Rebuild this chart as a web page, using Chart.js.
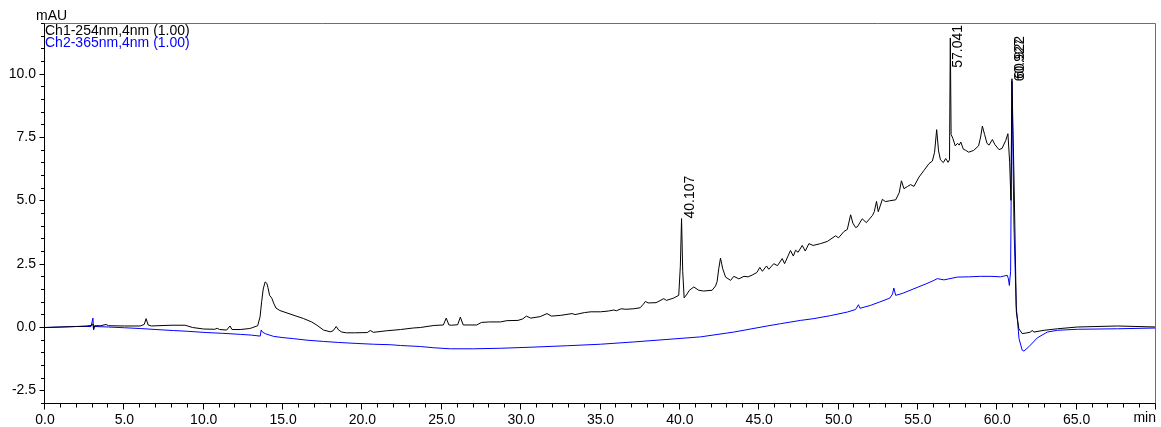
<!DOCTYPE html>
<html>
<head>
	<title>Chromatogram</title>
	<style>
		body
		{
			margin: 0;
			background: #ffffff;
		}

		#chart
		{
			display: block;
		}
	</style>
</head>
<body>
	<canvas id="chart" width="1161" height="427"></canvas>

	<script src="https://cdn.jsdelivr.net/npm/chart.js@4.4.1/dist/chart.umd.min.js"></script>
	<script>

		// Ch1 (254 nm): retention time in min, absorbance in mAU
		var ch1Times = [
			0.0, 1.0, 2.0, 2.6, 2.9, 3.02, 3.06, 3.12, 3.5, 3.85, 4.0, 5.0, 6.0, 6.25, 6.37, 6.5, 6.7, 7.5, 8.0, 8.83,
			9.3, 10.0, 10.7, 10.85, 11.0, 11.45, 11.6, 11.66, 11.78, 12.3, 12.9, 13.05, 13.4, 13.55, 13.65, 13.75, 13.87, 13.98, 14.05, 14.15,
			14.29, 14.4, 14.55, 14.8, 15.5, 16.3, 16.8, 17.13, 17.55, 17.97, 18.15, 18.35, 18.5, 18.7, 19.0, 19.5, 20.3, 20.49, 20.7, 21.5,
			22.4, 23.2, 23.65, 24.5, 25.1, 25.28, 25.45, 25.6, 26.0, 26.17, 26.35, 27.2, 27.5, 28.0, 28.7, 29.1, 29.8, 30.1, 30.33, 30.6,
			31.2, 31.63, 31.9, 32.5, 33.21, 33.4, 34.0, 34.4, 35.0, 35.5, 35.84, 36.0, 36.3, 36.6, 37.1, 37.5, 37.7, 37.83, 38.0, 38.5,
			38.99, 39.15, 39.6, 39.93, 40.03, 40.107, 40.18, 40.27, 40.45, 40.6, 40.88, 41.19, 41.5, 42.03, 42.25, 42.35, 42.45, 42.56, 42.7, 42.88,
			43.2, 43.4, 43.72, 44.04, 44.3, 44.56, 44.85, 45.04, 45.2, 45.46, 45.6, 45.92, 46.15, 46.45, 46.6, 46.97, 47.15, 47.29, 47.45, 47.71,
			47.9, 48.13, 48.4, 48.86, 49.3, 49.81, 50.0, 50.34, 50.55, 50.76, 50.9, 51.07, 51.18, 51.49, 51.75, 52.13, 52.25, 52.39, 52.5, 52.76,
			52.95, 53.2, 53.6, 53.82, 53.96, 54.12, 54.35, 54.54, 54.75, 55.07, 55.38, 55.7, 55.91, 56.05, 56.18, 56.3, 56.42, 56.6, 56.75, 56.9,
			56.99, 57.041, 57.09, 57.2, 57.35, 57.5, 57.6, 57.7, 57.86, 58.0, 58.2, 58.51, 58.82, 58.95, 59.06, 59.2, 59.35, 59.48, 59.69, 59.85,
			60.11, 60.3, 60.53, 60.67, 60.78, 60.86, 60.922, 61.05, 61.2, 61.36, 61.57, 61.8, 62.1, 62.2, 62.3, 62.95, 63.79, 65.05, 67.57, 70.0
		];
		var ch1Values = [
			-0.02, 0.0, 0.02, 0.04, 0.06, 0.12, -0.08, 0.05, 0.05, 0.1, 0.05, 0.04, 0.04, 0.1, 0.33, 0.08, 0.04, 0.06, 0.07, 0.07,
			-0.02, -0.08, -0.09, -0.05, -0.1, -0.12, 0.0, 0.04, -0.1, -0.1, -0.06, -0.03, 0.05, 0.4, 1.0, 1.5, 1.78, 1.72, 1.55, 1.25,
			1.14, 0.95, 0.75, 0.65, 0.5, 0.33, 0.2, 0.07, -0.12, -0.19, -0.15, 0.02, -0.12, -0.2, -0.23, -0.23, -0.22, -0.14, -0.21, -0.15,
			-0.1, -0.04, -0.02, 0.06, 0.08, 0.35, 0.08, 0.07, 0.09, 0.39, 0.08, 0.08, 0.18, 0.2, 0.2, 0.25, 0.26, 0.32, 0.43, 0.35,
			0.41, 0.53, 0.43, 0.46, 0.53, 0.49, 0.57, 0.6, 0.6, 0.63, 0.67, 0.64, 0.72, 0.7, 0.72, 0.76, 0.9, 1.01, 0.95, 0.96,
			1.12, 1.05, 1.14, 1.25, 2.4, 4.28, 2.2, 1.15, 1.3, 1.45, 1.58, 1.45, 1.42, 1.45, 1.62, 1.8, 2.3, 2.72, 2.3, 1.97,
			1.84, 2.0, 1.9, 2.0, 1.98, 2.05, 2.15, 2.35, 2.2, 2.41, 2.28, 2.5, 2.42, 2.7, 2.5, 3.02, 2.8, 3.03, 2.95, 3.22,
			3.0, 3.29, 3.22, 3.29, 3.38, 3.6, 3.52, 3.77, 3.85, 4.43, 4.1, 3.93, 3.95, 4.27, 4.12, 4.4, 4.55, 4.96, 4.55, 5.04,
			4.95, 4.98, 5.02, 5.3, 5.77, 5.46, 5.55, 5.62, 5.55, 5.92, 6.18, 6.45, 6.55, 6.9, 7.79, 6.95, 6.6, 6.49, 6.65, 6.5,
			6.6, 11.41, 7.6, 7.45, 7.15, 7.25, 7.18, 7.3, 7.02, 6.98, 6.9, 6.97, 7.15, 7.5, 7.93, 7.6, 7.25, 7.18, 7.4, 7.2,
			7.0, 7.05, 7.36, 7.63, 6.5, 5.0, 9.8, 6.0, 0.6, -0.07, -0.26, -0.24, -0.2, -0.13, -0.2, -0.13, -0.07, 0.0, 0.04, 0.0
		];

		// Ch2 (365 nm)
		var ch2Times = [
			0.0, 1.0, 2.0, 2.9, 3.02, 3.06, 3.12, 4.0, 5.0, 6.0, 7.0, 8.1, 9.0, 10.2, 11.2, 12.3, 13.0, 13.56, 13.62, 13.7,
			13.9, 14.4, 15.0, 15.66, 16.5, 17.55, 18.5, 19.65, 20.7, 21.75, 22.4, 23.65, 24.5, 25.54, 27.0, 28.69, 30.5, 32.9, 35.0, 37.1,
			39.0, 41.3, 43.4, 45.5, 46.34, 47.6, 48.44, 49.5, 50.55, 51.07, 51.25, 51.35, 52.0, 52.6, 53.23, 53.4, 53.48, 53.6, 54.0, 54.75,
			55.5, 56.01, 56.22, 56.64, 57.48, 58.2, 58.95, 59.6, 60.2, 60.63, 60.7, 60.76, 60.84, 60.927, 61.05, 61.19, 61.37, 61.57, 61.68, 61.99,
			62.52, 63.15, 63.79, 65.05, 67.57, 70.0
		];
		var ch2Values = [
			-0.02, 0.0, 0.02, 0.02, 0.35, -0.12, 0.02, 0.0, -0.03, -0.06, -0.1, -0.14, -0.17, -0.22, -0.25, -0.29, -0.32, -0.36, -0.12, -0.2,
			-0.27, -0.37, -0.42, -0.46, -0.52, -0.57, -0.61, -0.65, -0.68, -0.7, -0.73, -0.77, -0.82, -0.86, -0.86, -0.84, -0.8, -0.74, -0.68, -0.59,
			-0.5, -0.39, -0.2, 0.04, 0.13, 0.26, 0.33, 0.45, 0.59, 0.69, 0.88, 0.74, 0.85, 0.99, 1.14, 1.3, 1.54, 1.25, 1.32, 1.51,
			1.7, 1.84, 1.91, 1.86, 1.97, 1.98, 2.0, 2.0, 1.98, 2.04, 1.9, 1.64, 2.2, 9.7, 4.0, 0.85, -0.46, -0.92, -0.95, -0.78,
			-0.43, -0.2, -0.13, -0.09, -0.07, -0.04
		];

		// axis ticks
		var xTickValues = [0, 5, 10, 15, 20, 25, 30, 35, 40, 45, 50, 55, 60, 65];
		var yTickValues = [-2.5, 0, 2.5, 5, 7.5, 10];

		// labelled peaks: which channel and the retention time
		var peakChannels = [0, 0, 0, 1];
		var peakTimes = [40.107, 57.041, 60.922, 60.927];

		var fontFamily = '"Liberation Sans", Arial, sans-serif';
		Chart.defaults.font.family = fontFamily;
		Chart.defaults.font.size = 14;
		Chart.defaults.color = '#000000';

		function toPoints(times, values) {
			return times.map(function (t, i) {
				return { x: t, y: values[i] };
			});
		}

		// frame, tick marks, channel names, units and peak retention times
		var chromPlugin = {
			id: 'chromDecor',
			afterDraw: function (chart) {
				var ctx = chart.ctx;
				var area = chart.chartArea;
				var xs = chart.scales.x;
				var ys = chart.scales.y;
				var left = Math.round(area.left) - 0.5;
				var right = Math.round(area.right) - 0.5;
				var top = Math.round(area.top) + 0.5;
				var bottom = Math.round(area.bottom) + 0.5;

				ctx.save();
				ctx.lineWidth = 1;

				// top and right edges are grey
				ctx.strokeStyle = '#6e6e6e';
				ctx.beginPath();
				ctx.moveTo(left, top);
				ctx.lineTo(right, top);
				ctx.lineTo(right, bottom);
				ctx.stroke();

				ctx.strokeStyle = '#000000';
				ctx.beginPath();
				ctx.moveTo(left, top);
				ctx.lineTo(left, bottom);
				ctx.lineTo(right, bottom);

				// x ticks every minute, longer every 5
				for (var t = 0; t <= 70; t++) {
					var px = Math.round(xs.getPixelForValue(t)) - 0.5;
					var len = (t % 5 === 0) ? 6 : 4;
					ctx.moveTo(px, bottom);
					ctx.lineTo(px, bottom + len);
				}
				// y ticks every 0.5 mAU, longer at the labelled ones
				for (var k = -6; k <= 24; k++) {
					var v = k / 2;
					var py = Math.round(ys.getPixelForValue(v)) + 0.5;
					var ylen = (k % 5 === 0) ? 5 : 3.5;
					ctx.moveTo(left, py);
					ctx.lineTo(left - ylen, py);
				}
				ctx.stroke();

				ctx.font = '14px ' + fontFamily;
				ctx.textBaseline = 'alphabetic';
				ctx.textAlign = 'left';
				ctx.fillStyle = '#000000';
				ctx.fillText('mAU', 36, 20);

				ctx.textAlign = 'right';
				ctx.fillText('min', area.right, 422);

				// channel names in the top left corner
				ctx.textAlign = 'left';
				chart.data.datasets.forEach(function (ds, i) {
					ctx.fillStyle = ds.borderColor;
					ctx.fillText(ds.label, area.left, 34.5 + i * 12.3);
				});

				// retention times written upwards from the peak tops
				ctx.fillStyle = '#000000';
				peakTimes.forEach(function (t, i) {
					var ch = peakChannels[i];
					var times = ch === 0 ? ch1Times : ch2Times;
					var values = ch === 0 ? ch1Values : ch2Values;
					var h = values[times.indexOf(t)];
					var text = t.toFixed(3);
					var w = ctx.measureText(text).width;
					var lx = xs.getPixelForValue(t) + 12;
					var ly = ys.getPixelForValue(h);
					if (ly - w < area.top + 2) {
						ly = area.top + 2 + w;
					}
					ctx.save();
					ctx.translate(lx, ly);
					ctx.rotate(-Math.PI / 2);
					ctx.fillText(text, 0, 0);
					ctx.restore();
				});

				ctx.restore();
			}
		};

		var ctx = document.getElementById('chart').getContext('2d');
		var chart = new Chart(ctx, {
			type: 'line',
			data: {
				datasets: [{
					label: 'Ch1-254nm,4nm (1.00)',
					data: toPoints(ch1Times, ch1Values),
					borderColor: '#000000',
					borderWidth: 1,
					pointRadius: 0,
					tension: 0
				}, {
					label: 'Ch2-365nm,4nm (1.00)',
					data: toPoints(ch2Times, ch2Values),
					borderColor: '#0000ff',
					borderWidth: 1,
					pointRadius: 0,
					tension: 0
				}]
			},
			options: {
				responsive: false,
				animation: false,
				devicePixelRatio: 1,
				layout: {
					padding: { top: 23, right: 5, left: 0, bottom: 0 }
				},
				plugins: {
					legend: { display: false },
					tooltip: { enabled: false }
				},
				scales: {
					x: {
						type: 'linear',
						min: 0,
						max: 70,
						grid: { display: false, drawTicks: false },
						border: { display: false },
						ticks: {
							padding: 9,
							maxRotation: 0,
							autoSkip: false,
							callback: function (v) { return v.toFixed(1); }
						},
						afterBuildTicks: function (s) {
							s.ticks = xTickValues.map(function (v) { return { value: v }; });
						},
						afterFit: function (s) { s.height = 24; }
					},
					y: {
						type: 'linear',
						min: -3,
						max: 12,
						grid: { display: false, drawTicks: false },
						border: { display: false },
						ticks: {
							padding: 9,
							autoSkip: false,
							callback: function (v) { return v.toFixed(1); }
						},
						afterBuildTicks: function (s) {
							s.ticks = yTickValues.map(function (v) { return { value: v }; });
						},
						afterFit: function (s) { s.width = 45; }
					}
				}
			},
			plugins: [chromPlugin]
		});

	</script>
</body>
</html>
